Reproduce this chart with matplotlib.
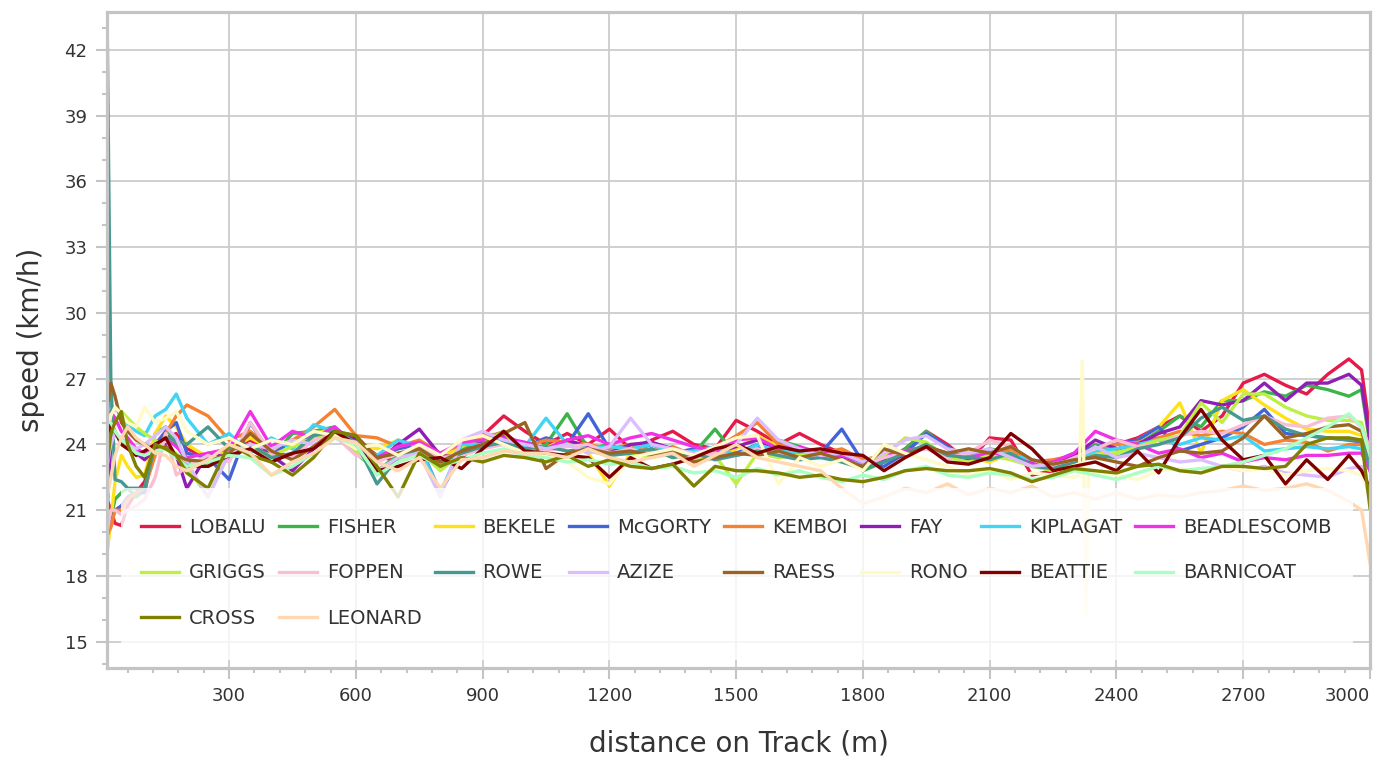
import matplotlib
matplotlib.use('Agg')
import matplotlib.pyplot as plt
from matplotlib.patches import Rectangle
from matplotlib.ticker import MultipleLocator

# distance grid (m) shared by all runners
distance = [11, 20, 30, 45, 60, 80, 100, 125, 150, 175, 200,
            250, 300, 350, 400, 450, 500, 550, 600, 650, 700, 750, 800, 850, 900, 950, 1000,
            1050, 1100, 1150, 1200, 1250, 1300, 1350, 1400, 1450, 1500, 1550, 1600, 1650, 1700,
            1750, 1800, 1850, 1900, 1950, 2000,
            2050, 2100, 2150, 2200, 2250, 2300, 2350, 2400, 2450, 2500, 2550, 2600, 2650, 2700,
            2750, 2800, 2850, 2900, 2950,
            2980, 3000]

runners = ['LOBALU', 'FISHER', 'BEKELE', 'McGORTY', 'KEMBOI', 'FAY', 'KIPLAGAT', 'BEADLESCOMB',
           'GRIGGS', 'FOPPEN', 'ROWE', 'AZIZE', 'RAESS', 'RONO', 'BEATTIE', 'BARNICOAT',
           'CROSS', 'LEONARD']
colors = ['#e6194b', '#3cb44b', '#ffe119', '#4363d8', '#f58231', '#911eb4', '#42d4f4', '#f032e6',
          '#bfef45', '#fabed4', '#469990', '#dcbeff', '#9a6324', '#fffac8', '#800000', '#aaffc3',
          '#808000', '#ffd8b1']

lobalu = [21.5, 21.0, 20.4, 20.3, 21.2, 21.8, 22.3, 23.8, 24.3, 24.5, 23.8,
          23.4, 23.8, 24.2, 23.6, 23.5, 24.2, 24.6, 24.2, 23.5, 23.2, 23.8, 23.6, 24.0, 24.4, 25.3, 24.6,
          24.0, 24.5, 24.0, 24.7, 23.8, 24.2, 24.6, 24.0, 23.8, 25.1, 24.6, 24.0, 24.5, 24.0, 23.6, 23.4, 23.2, 23.8, 24.6, 24.0,
          23.2, 24.3, 24.2, 22.6, 22.8, 23.3, 23.8, 24.0, 24.3, 24.8, 25.3, 24.6, 25.3, 26.8, 27.2, 26.7, 26.3, 27.2, 27.9,
          27.4, 24.6]
fisher = [20.8, 20.6, 21.5, 21.8, 22.0, 21.6, 21.9, 24.5, 24.8, 24.0, 23.2,
          23.0, 23.4, 24.0, 23.4, 24.5, 24.6, 24.8, 23.6, 22.8, 23.5, 23.8, 23.0, 23.8, 24.2, 24.6, 23.6,
          24.0, 25.4, 23.8, 24.0, 23.6, 23.8, 23.4, 23.6, 24.7, 23.5, 23.8, 24.2, 23.9, 23.4, 23.6, 22.8, 23.2, 23.8, 24.6, 23.8,
          23.5, 23.8, 23.6, 23.2, 23.0, 23.4, 24.0, 23.6, 24.0, 24.6, 25.3, 24.8, 26.0, 26.0, 26.4, 26.2, 26.7, 26.5, 26.2,
          26.5, 24.0]
bekele = [19.0, 20.5, 22.3, 23.5, 23.0, 22.5, 22.6, 24.5, 25.3, 24.8, 24.0,
          23.4, 23.8, 24.3, 23.8, 24.0, 24.5, 24.7, 24.0, 23.8, 24.2, 23.6, 23.4, 23.9, 24.3, 24.2, 23.8,
          23.9, 24.0, 23.6, 22.1, 23.6, 23.7, 23.5, 23.6, 23.4, 23.8, 24.4, 23.9, 23.6, 23.4, 23.7, 23.0, 23.4, 23.6, 23.9, 23.5,
          23.4, 23.2, 23.6, 23.0, 22.9, 23.2, 23.6, 23.7, 24.2, 24.8, 25.9, 23.6, 26.0, 26.5, 25.8, 25.2, 24.7, 24.6, 24.6,
          24.4, 23.2]
mcgorty = [19.8, 20.5, 21.0, 21.2, 21.6, 21.8, 21.8, 24.0, 24.6, 25.0, 23.6,
           23.4, 22.4, 25.0, 23.5, 24.2, 24.4, 24.6, 23.8, 23.4, 23.8, 24.0, 21.8, 23.6, 24.1, 24.4, 23.9,
           24.3, 24.0, 25.4, 23.8, 23.7, 24.0, 23.6, 23.8, 23.4, 23.6, 24.0, 23.5, 23.8, 23.6, 24.7, 23.2, 23.0, 23.6, 24.5, 23.9,
           23.3, 23.6, 23.4, 23.1, 23.2, 23.6, 23.9, 24.0, 24.2, 24.8, 23.7, 24.0, 24.3, 24.8, 25.6, 24.5, 24.4, 24.3, 24.2,
           24.1, 23.0]
kemboi = [19.9, 20.2, 21.0, 21.0, 21.5, 21.8, 22.0, 23.5, 24.5, 25.3, 25.8,
          25.3, 24.2, 24.6, 23.8, 24.2, 24.8, 25.6, 24.4, 24.3, 23.9, 24.2, 23.6, 24.0, 24.4, 24.5, 23.9,
          24.2, 24.1, 24.0, 23.8, 24.0, 23.7, 23.9, 23.5, 23.8, 24.4, 25.0, 24.0, 23.8, 23.6, 23.8, 23.3, 23.5, 23.7, 23.9, 23.6,
          23.6, 23.4, 23.8, 23.2, 23.3, 23.5, 23.8, 24.0, 24.1, 24.3, 24.6, 24.4, 24.6, 24.5, 24.0, 24.2, 24.1, 23.7, 24.0,
          24.0, 23.0]
fay = [21.0, 24.0, 24.5, 24.2, 24.0, 23.6, 23.3, 23.8, 24.0, 23.5, 22.0,
       23.6, 23.4, 23.9, 23.5, 22.8, 23.8, 24.5, 24.3, 23.2, 24.0, 24.7, 23.5, 23.4, 24.2, 24.3, 24.0,
       23.8, 24.2, 23.9, 23.6, 24.0, 24.1, 23.8, 23.4, 23.6, 23.9, 24.2, 23.7, 23.5, 23.6, 23.4, 23.0, 23.3, 23.5, 24.0, 23.4,
       23.3, 23.5, 23.4, 23.2, 23.0, 23.5, 24.2, 23.8, 24.0, 24.5, 24.8, 26.0, 25.8, 26.0, 26.8, 26.0, 26.8, 26.8, 27.2,
       26.7, 24.2]
kiplagat = [24.8, 25.8, 25.6, 25.4, 24.9, 24.6, 24.4, 25.3, 25.6, 26.3, 25.2,
            24.0, 24.5, 23.6, 24.3, 23.8, 24.9, 24.6, 23.9, 23.5, 24.2, 23.9, 21.8, 24.0, 24.0, 24.2, 23.9,
            25.2, 24.0, 23.8, 23.9, 23.8, 24.0, 23.6, 23.7, 23.9, 23.5, 24.0, 23.7, 23.6, 23.4, 23.6, 23.1, 23.4, 23.7, 23.8, 23.5,
            23.4, 23.7, 23.5, 23.3, 23.1, 23.3, 23.7, 23.8, 24.0, 24.2, 24.0, 24.3, 24.2, 24.4, 23.7, 23.8, 23.9, 23.8, 23.9,
            23.8, 22.8]
beadlescomb = [24.0, 25.5, 25.2, 24.6, 24.3, 23.8, 23.6, 24.0, 24.3, 23.9, 23.4,
               23.6, 23.8, 25.5, 23.9, 24.6, 24.3, 24.8, 24.0, 23.4, 23.9, 24.1, 23.6, 24.1, 24.2, 24.3, 24.1,
               23.8, 24.2, 24.4, 24.0, 24.3, 24.5, 24.2, 23.9, 23.7, 24.2, 24.3, 23.8, 23.9, 23.6, 23.5, 23.2, 23.5, 23.7, 23.9, 23.6,
               23.4, 23.6, 23.5, 23.1, 23.2, 23.6, 24.6, 24.2, 24.0, 23.6, 23.8, 23.4, 23.6, 23.2, 23.4, 23.3, 23.5, 23.5, 23.6,
               23.6, 22.8]
griggs = [24.5, 25.4, 25.6, 25.5, 25.2, 24.8, 24.5, 24.2, 23.8, 23.6, 23.0,
          21.6, 23.6, 23.8, 23.5, 23.9, 24.3, 24.6, 23.7, 22.7, 23.3, 23.7, 22.8, 23.6, 24.0, 24.6, 23.4,
          23.7, 24.0, 23.7, 23.5, 23.6, 23.4, 23.6, 23.3, 23.5, 22.2, 23.6, 23.4, 23.5, 23.6, 23.2, 22.9, 23.5, 24.3, 24.1, 23.4,
          23.2, 23.5, 23.3, 23.0, 22.8, 23.2, 23.5, 23.6, 23.9, 24.2, 24.4, 25.9, 25.0, 26.3, 26.3, 25.7, 25.3, 25.1, 25.1,
          25.0, 23.5]
foppen = [20.0, 21.0, 21.0, 20.8, 21.0, 21.2, 21.5, 22.5, 24.5, 22.6, 23.0,
          23.5, 23.2, 25.0, 23.6, 23.4, 24.2, 24.4, 23.5, 23.2, 23.6, 23.9, 23.4, 23.5, 23.8, 24.0, 23.6,
          23.7, 23.9, 24.0, 23.6, 23.8, 23.5, 23.7, 23.4, 23.6, 23.5, 23.8, 23.6, 23.4, 23.5, 23.3, 23.0, 23.4, 23.6, 23.8, 23.4,
          23.6, 24.2, 23.9, 23.3, 23.0, 23.4, 23.8, 24.2, 23.9, 24.0, 24.4, 24.6, 24.5, 24.9, 25.3, 24.9, 24.8, 25.2, 25.3,
          24.8, 23.8]
rowe = [44.0, 27.0, 22.4, 22.3, 22.0, 22.0, 22.0, 24.0, 24.3, 24.2, 24.0,
        24.8, 23.8, 24.0, 23.4, 23.6, 24.4, 24.6, 24.1, 22.2, 23.4, 23.8, 23.2, 23.6, 23.9, 24.1, 23.8,
        23.9, 23.7, 23.8, 23.5, 23.6, 23.8, 23.4, 23.6, 23.3, 23.5, 23.7, 23.5, 23.3, 23.4, 23.2, 22.9, 23.2, 23.6, 24.0, 23.5,
        23.4, 23.3, 23.6, 23.0, 22.9, 23.2, 23.5, 23.4, 23.8, 24.0, 24.3, 25.2, 25.7, 25.1, 25.3, 24.7, 24.4, 24.3, 24.2,
        24.2, 23.0]
azize = [23.0, 24.0, 24.5, 24.3, 24.0, 23.8, 24.0, 24.4, 24.8, 24.3, 23.2,
         21.6, 23.6, 24.0, 23.8, 24.2, 24.0, 24.3, 23.9, 22.8, 23.4, 23.6, 21.6, 24.2, 24.6, 24.2, 24.0,
         23.8, 24.0, 23.6, 23.9, 25.2, 24.0, 23.8, 23.6, 23.8, 24.0, 25.2, 24.2, 23.8, 23.5, 23.6, 23.2, 23.6, 24.2, 24.4, 23.8,
         23.6, 23.8, 23.4, 23.0, 23.1, 23.3, 23.9, 23.4, 23.6, 23.4, 23.2, 23.3, 23.0, 22.8, 23.0, 22.7, 22.6, 22.5, 22.9,
         23.0, 21.5]
raess = [25.5, 26.8, 26.2, 25.0, 24.6, 24.2, 24.0, 23.7, 23.9, 23.5, 23.3,
         23.2, 23.6, 24.5, 23.7, 23.3, 23.9, 24.6, 24.4, 23.4, 23.6, 23.8, 23.2, 23.7, 24.0, 24.5, 25.0,
         22.9, 23.6, 23.8, 23.6, 23.7, 23.5, 23.7, 23.2, 23.4, 23.6, 23.5, 23.7, 23.4, 23.6, 23.3, 23.0, 23.8, 23.5, 23.9, 23.6,
         23.8, 23.6, 23.9, 23.3, 23.1, 23.3, 23.4, 23.2, 23.0, 23.4, 23.7, 23.6, 23.7, 24.3, 25.3, 24.3, 24.5, 24.8, 24.9,
         24.6, 23.5]
rono = [24.5, 25.3, 25.7, 25.4, 25.0, 24.8, 25.7, 25.0, 25.2, 25.5, 24.6,
        24.0, 24.3, 23.8, 24.2, 24.0, 24.6, 24.4, 23.8, 24.0, 23.5, 24.0, 23.5, 24.2, 24.4, 24.0, 23.6,
        23.5, 23.2, 22.5, 22.2, 23.4, 23.6, 23.8, 23.5, 23.9, 24.3, 24.4, 22.2, 23.4, 23.0, 23.3, 22.8, 24.0, 23.6, 23.3, 23.0,
        22.6, 22.8, 22.4, 22.7, 22.6, 22.5, 22.8, 22.6, 22.4, 22.8, 22.9, 22.7, 23.0, 22.8, 22.9, 22.6, 22.8, 22.9, 22.8,
        22.6, 21.8]
# short GPS glitch in RONO's trace
rono_glitch_d = [2312, 2319, 2328, 2334]
rono_glitch_v = [22.6, 27.8, 16.3, 22.7]
beattie = [24.0, 25.0, 24.6, 24.0, 23.8, 23.5, 23.7, 24.0, 24.3, 23.4, 23.0,
           23.0, 23.5, 23.8, 23.2, 23.6, 23.8, 24.6, 24.0, 22.8, 23.0, 23.3, 23.4, 22.9, 23.8, 24.6, 23.7,
           23.6, 23.5, 23.4, 22.5, 23.4, 22.9, 23.1, 23.4, 23.8, 24.0, 23.6, 23.9, 23.7, 23.8, 23.6, 23.5, 22.8, 23.4, 23.9, 23.2,
           23.1, 23.4, 24.5, 23.8, 22.8, 23.0, 23.2, 22.8, 23.7, 22.7, 24.3, 25.6, 24.2, 23.3, 23.5, 22.2, 23.3, 22.4, 23.5,
           22.8, 22.0]
barnicoat = [25.0, 25.0, 24.6, 24.2, 24.0, 23.6, 23.5, 23.7, 23.8, 23.4, 23.0,
             23.2, 23.5, 23.4, 22.6, 23.0, 23.6, 24.3, 24.0, 22.6, 23.2, 23.5, 23.0, 23.3, 23.6, 23.8, 23.5,
             23.4, 23.2, 23.3, 23.1, 23.2, 22.9, 23.0, 22.7, 22.8, 22.5, 22.9, 22.6, 22.8, 22.5, 22.3, 22.6, 22.4, 22.8, 23.0, 22.6,
             22.5, 22.7, 22.6, 22.4, 22.5, 22.8, 22.6, 22.4, 22.7, 23.0, 22.8, 22.9, 23.0, 23.2, 23.5, 23.8, 24.3, 24.8, 25.4,
             24.8, 23.5]
cross = [23.0, 24.5, 25.0, 25.5, 24.0, 23.0, 22.5, 24.0, 23.8, 23.5, 22.7,
         22.0, 24.0, 23.5, 23.2, 22.6, 23.4, 24.6, 24.4, 23.0, 21.6, 23.6, 23.0, 23.4, 23.2, 23.5, 23.4,
         23.2, 23.5, 23.0, 23.3, 23.0, 22.9, 23.1, 22.1, 23.0, 22.8, 22.8, 22.7, 22.5, 22.6, 22.4, 22.3, 22.5, 22.8, 22.9, 22.8,
         22.8, 22.9, 22.7, 22.3, 22.6, 22.9, 22.8, 22.7, 23.0, 23.1, 22.8, 22.7, 23.0, 23.0, 22.9, 23.0, 24.0, 24.3, 24.3,
         24.2, 21.1]
leonard = [21.5, 22.5, 23.5, 24.3, 24.8, 24.3, 24.0, 23.6, 23.5, 23.0, 22.8,
           23.3, 24.0, 23.6, 22.6, 23.2, 23.6, 24.3, 24.1, 23.2, 22.8, 23.4, 22.0, 23.3, 23.4, 23.7, 23.6,
           23.6, 23.4, 23.8, 23.4, 23.2, 23.4, 23.6, 23.0, 23.5, 24.0, 23.4, 23.2, 23.0, 22.8, 22.0, 21.3, 21.6, 22.0, 21.8, 22.2,
           21.7, 22.0, 21.8, 22.1, 21.6, 21.8, 21.5, 21.8, 21.5, 21.7, 21.6, 21.8, 21.9, 22.1, 21.9, 22.0, 22.2, 21.9, 21.4,
           21.0, 18.6]

speeds = [lobalu, fisher, bekele, mcgorty, kemboi, fay, kiplagat, beadlescomb, griggs, foppen,
          rowe, azize, raess, rono, beattie, barnicoat, cross, leonard]

fig = plt.figure(figsize=(13.8, 7.6), dpi=100)
ax = fig.add_axes([107 / 1380, 92 / 760, 1263 / 1380, 656 / 760])

lines = []
for name, col, spd in zip(runners, colors, speeds):
    xs, ys = list(distance), list(spd)
    if name == 'RONO':
        pts = sorted(list(zip(xs, ys)) + list(zip(rono_glitch_d, rono_glitch_v)))
        xs = [p[0] for p in pts]
        ys = [p[1] for p in pts]
    ln, = ax.plot(xs, ys, color=col, lw=2.4, label=name, solid_joinstyle='round')
    lines.append(ln)

ax.set_xlim(11, 3000)
ax.set_ylim(13.8, 43.73)
ax.xaxis.set_minor_locator(MultipleLocator(60))
ax.yaxis.set_minor_locator(MultipleLocator(1))
ax.set_xticks(range(300, 3001, 300))
ax.set_yticks(range(15, 43, 3))
ax.get_xticklabels()[-1].set_horizontalalignment('right')

ax.set_axisbelow(True)
ax.grid(True, which='major', color='#cccccc', lw=1.3)
for s in ax.spines.values():
    s.set_color('#c4c4c4')
    s.set_linewidth(2.3)
ax.tick_params(which='major', length=8, width=1.5, color='#c4c4c4', labelsize=13,
               labelcolor='#333333', pad=6)
ax.tick_params(which='minor', length=3.5, width=1.5, color='#c4c4c4')

ax.set_xlabel('distance on Track (m)', fontsize=20, color='#333333', labelpad=17)
ax.set_ylabel('speed (km/h)', fontsize=20, color='#333333', labelpad=14)

# translucent legend backdrop
ax.add_patch(Rectangle((14 / 1263, 8 / 656), 1232 / 1263, 172 / 656, transform=ax.transAxes,
                       facecolor='white', alpha=0.8, edgecolor='none', zorder=4))

# legend reads row by row: matplotlib fills columns, so reorder entries
ncol = 8
order = []
for c in range(ncol):
    order += list(range(c, len(runners), ncol))
leg = ax.legend([lines[i] for i in order], [runners[i] for i in order],
                ncol=ncol, loc='upper left', bbox_to_anchor=(34 / 1263, 150 / 656),
                frameon=False, fontsize=14, handlelength=1.95, handletextpad=0.51,
                columnspacing=0.68, labelspacing=1.36, borderpad=0, borderaxespad=0)
leg.set_zorder(5)
for t in leg.get_texts():
    t.set_color('#333333')

fig.savefig('out.png', dpi=100)
